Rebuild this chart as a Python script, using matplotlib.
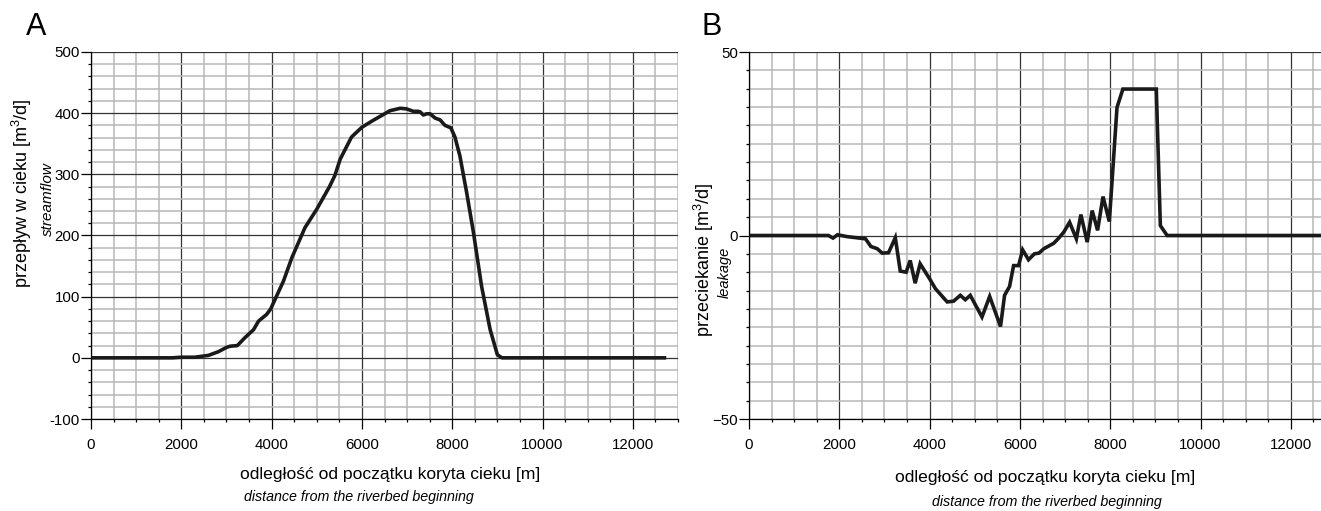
import numpy as np
import matplotlib
matplotlib.use("Agg")
import matplotlib.pyplot as plt
from matplotlib.ticker import MultipleLocator

plt.rcParams['font.family'] = ['Liberation Sans', 'DejaVu Sans']
plt.rcParams['mathtext.fontset'] = 'custom'
plt.rcParams['mathtext.rm'] = 'Liberation Sans'
plt.rcParams['mathtext.it'] = 'Liberation Sans:italic'

# panel A - streamflow along the riverbed
dist_a = [0, 1800, 2000, 2300, 2600, 2820, 3000, 3080, 3240, 3410, 3600, 3710, 3890,
          3980, 4110, 4260, 4450, 4740, 5000, 5290, 5400, 5520, 5770, 6000, 6220,
          6480, 6620, 6850, 6990, 7140, 7250, 7290, 7360, 7435, 7510, 7620, 7730,
          7840, 7970, 8060, 8170, 8320, 8470, 8650, 8840, 9000, 9100, 12700]
flow_a = [0, 0, 1, 1, 4, 10, 17, 19, 20, 33, 46, 60, 71,
          80, 101, 125, 164, 213, 243, 281, 298, 325, 361, 377, 387,
          398, 404, 408, 407, 403, 403, 402, 397, 399, 399, 392, 389,
          380, 376, 361, 330, 270, 205, 117, 46, 5, 0, 0]

# panel B - leakage along the riverbed
dist_b = [0, 1760, 1860, 1960, 2170, 2580, 2700, 2840, 2950, 3090, 3240, 3350, 3480,
          3570, 3680, 3790, 4000, 4130, 4310, 4390, 4530, 4680, 4790, 4900, 5160,
          5330, 5570, 5660, 5770, 5860, 5970, 6060, 6190, 6320, 6420, 6530, 6750,
          6860, 6970, 7100, 7250, 7350, 7490, 7600, 7720, 7840, 7980, 8150, 8280,
          9020, 9110, 9260, 13000]
leak_b = [0, 0, -0.7, 0.2, -0.3, -0.9, -3, -3.6, -4.8, -4.7, -0.6, -9.7, -10,
          -6.8, -13, -7.7, -11.8, -14.5, -17, -18.1, -17.9, -16.3, -17.5, -16.3, -22.2,
          -16.6, -24.8, -16.3, -13.9, -8.2, -8.2, -3.9, -6.6, -5, -4.8, -3.6, -2.1,
          -0.7, 0.9, 3.6, -0.9, 5.7, -1.8, 6.8, 1.4, 10.6, 3.8, 34.9, 39.9,
          39.9, 2.7, 0, 0]

x_ticks = [0, 2000, 4000, 6000, 8000, 10000, 12000]
ya_ticks = [-100, 0, 100, 200, 300, 400, 500]
yb_ticks = [-50, 0, 50]

W, H = 1321, 511
fig = plt.figure(figsize=(W / 100, H / 100), dpi=100)


def rect(l, r, t, b):
    return [l / W, 1 - b / H, (r - l) / W, (b - t) / H]


def style(ax, ymin, ymax, yminor):
    ax.set_xlim(0, 13000)
    ax.set_ylim(ymin, ymax)
    ax.xaxis.set_minor_locator(MultipleLocator(500))
    ax.yaxis.set_minor_locator(MultipleLocator(yminor))
    ax.grid(which='minor', color='#b8b8b8', lw=1.1)
    ax.grid(which='major', color='#333333', lw=0.9)
    ax.set_axisbelow(True)
    ax.tick_params(which='major', length=7, width=0.9, labelsize=10.8)
    ax.tick_params(which='minor', length=2.5, width=0.9)
    ax.tick_params(axis='x', which='major', pad=6.5)
    ax.tick_params(axis='y', which='major', pad=1)
    ax.set_xticks(x_ticks, [str(v) for v in x_ticks])
    for s in ['top', 'right']:
        ax.spines[s].set_visible(False)
    for s in ['left', 'bottom']:
        ax.spines[s].set_linewidth(0.9)


axA = fig.add_axes(rect(91, 678, 52, 419))
style(axA, -100, 500, 20)
axA.set_yticks(ya_ticks, [str(v) for v in ya_ticks])
axA.plot(dist_a, flow_a, color='#1a1a1a', lw=2.6, solid_joinstyle='round')

axB = fig.add_axes(rect(749, 1336, 52, 419))
style(axB, -50, 50, 5)
axB.set_yticks(yb_ticks, ['\u221250', '0', '50'])
axB.plot(dist_b, leak_b, color='#1a1a1a', lw=2.6, solid_joinstyle='miter')


def ftext(x, y, s, **kw):
    fig.text(x / W, 1 - y / H, s, ha='center', va='center', **kw)


ftext(36, 27, 'A', fontsize=22)
ftext(712, 27, 'B', fontsize=22)

ftext(390, 474, 'odległość od początku koryta cieku [m]', fontsize=12.6)
ftext(359, 497, 'distance from the riverbed beginning', fontsize=10.3, style='italic')
ftext(1045, 477, 'odległość od początku koryta cieku [m]', fontsize=12.6)
ftext(1047, 502, 'distance from the riverbed beginning', fontsize=10.3, style='italic')

ftext(22, 193, 'przepływ w cieku [m$^{3}$/d]', fontsize=13, rotation=90)
ftext(48, 199, 'streamflow', fontsize=11, style='italic', rotation=90)
ftext(704, 260, 'przeciekanie [m$^{3}$/d]', fontsize=13, rotation=90)
ftext(725, 272, 'leakage', fontsize=10.5, style='italic', rotation=90)

fig.savefig('out.png', dpi=100)
